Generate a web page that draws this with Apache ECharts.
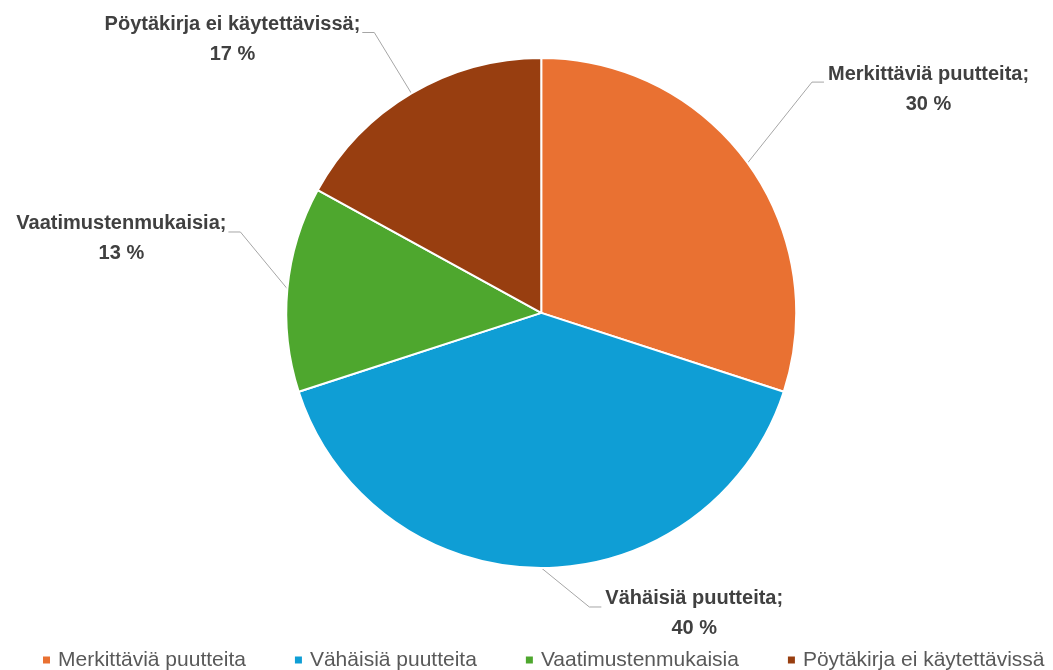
<!DOCTYPE html>
<html>
<head>
<meta charset="utf-8">
<script src="https://cdn.jsdelivr.net/npm/echarts@6/dist/echarts.min.js"></script>
<style>
html,body{margin:0;padding:0;background:#fff;}
#chart{width:1053px;height:670px;}
</style>
</head>
<body>
<div id="chart"></div>
<script>
const categories = ['Merkittäviä puutteita', 'Vähäisiä puutteita', 'Vaatimustenmukaisia', 'Pöytäkirja ei käytettävissä'];
const values = [30, 40, 13, 17];
const colors = ['#E97132', '#0F9ED5', '#4EA72E', '#983E10'];
// label block offset from the slice's leader-line anchor (px)
const labelOffsets = [[181, -74], [153, 46], [-166, -50], [-179, -54]];

const LINE_H = 30;
const chart = echarts.init(document.getElementById('chart'));
const option = {
  animation: false,
  color: colors,
  legend: {
    data: categories,
    left: 41,
    top: 649,
    width: 1045,
    padding: 0,
    icon: 'rect',
    itemWidth: 9,
    itemHeight: 9,
    itemGap: 47,
    textStyle: {
      fontFamily: '"Liberation Sans Narrow", "Liberation Sans", sans-serif',
      fontSize: 21,
      lineHeight: 22,
      color: '#595959',
      padding: [0, 0, 0, 2]
    }
  },
  series: [{
    type: 'pie',
    center: ['51.4%', '46.7%'],
    radius: 255,
    startAngle: 90,
    clockwise: true,
    avoidLabelOverlap: false,
    itemStyle: { borderColor: '#fff', borderWidth: 2 },
    label: {
      show: true,
      position: 'outside',
      formatter: p => p.name + ';\n' + p.value + ' %',
      fontFamily: '"Liberation Sans Narrow", "Liberation Sans", sans-serif',
      fontWeight: 'bold',
      fontSize: 20,
      lineHeight: LINE_H,
      color: '#404040'
    },
    labelLine: {
      show: true,
      length: 20,
      length2: 10,
      lineStyle: { color: '#A6A6A6', width: 1 }
    },
    labelLayout: function (params) {
      const p0 = params.labelLinePoints[0];
      const off = labelOffsets[params.dataIndex];
      const r = params.labelRect;
      const cx = p0[0] + off[0];
      const cy = p0[1] + off[1];
      const top = cy - r.height / 2;
      const ly = top + LINE_H * 0.77;
      let p1, p2;
      if (off[0] > 0) {
        p2 = [cx - r.width / 2 - 4, ly];
        p1 = [p2[0] - 12, ly];
      } else {
        p2 = [cx + r.width / 2 + 2, ly];
        p1 = [p2[0] + 12, ly];
      }
      return {
        x: cx,
        y: cy,
        align: 'center',
        verticalAlign: 'middle',
        labelLinePoints: [p0, p1, p2]
      };
    },
    data: categories.map((c, i) => ({ name: c, value: values[i] }))
  }]
};
chart.setOption(option);
</script>
</body>
</html>
